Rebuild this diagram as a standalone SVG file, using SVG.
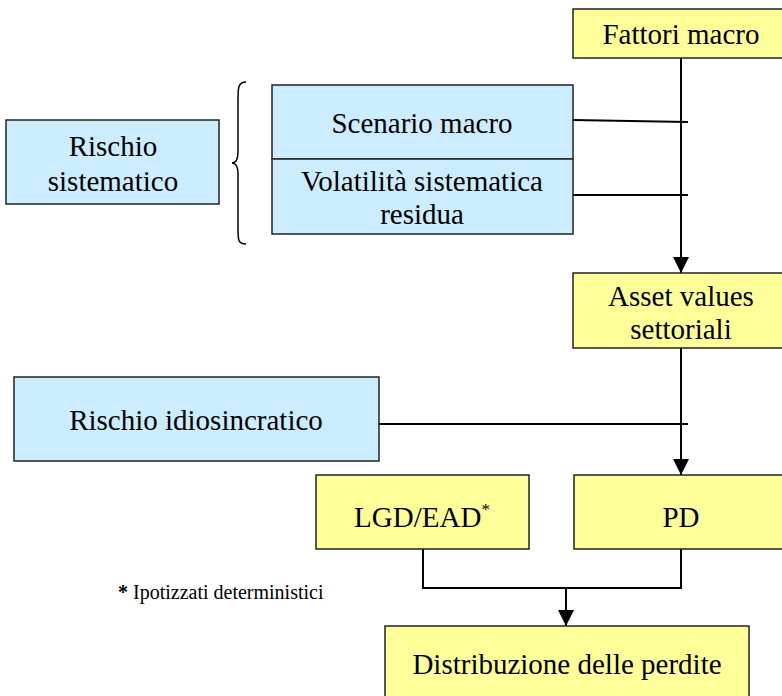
<svg xmlns="http://www.w3.org/2000/svg" width="782" height="696" viewBox="0 0 782 696">
<style>
.y{fill:#FFFF99;stroke:#222;stroke-width:1.5}
.b{fill:#CCECFF;stroke:#222;stroke-width:1.5}
.t{font-family:"Liberation Serif","Times New Roman",serif;font-size:29px;fill:#000;text-anchor:middle}
.l{fill:none;stroke:#000;stroke-width:2}
</style>
<defs>
<marker id="ah" markerWidth="16" markerHeight="16" refX="16" refY="8" orient="auto" markerUnits="userSpaceOnUse">
<path d="M0,0 L16,8 L0,16 Z" fill="#000"/>
</marker>
</defs>
<g id="connectors">
<line class="l" x1="681" y1="58" x2="681" y2="273" marker-end="url(#ah)"/>
<line class="l" x1="573" y1="120" x2="688" y2="122"/>
<line class="l" x1="573" y1="195" x2="688" y2="195"/>
<line class="l" x1="681" y1="348" x2="681" y2="475" marker-end="url(#ah)"/>
<line class="l" x1="379" y1="424" x2="688" y2="424"/>
<polyline class="l" points="423,549 423,588 681,588 681,549"/>
<line class="l" x1="566" y1="588" x2="566" y2="626" marker-end="url(#ah)"/>
<path d="M246,82 C238,82 238,88 238,100 L238,152 C238,160 236,163 232,163 C236,163 238,166 238,174 L238,228 C238,240 238,244 246,244" fill="none" stroke="#000" stroke-width="1.5"/>
</g>
<g id="fattori">
<rect class="y" x="573" y="9" width="215" height="49"/>
<text class="t" x="681" y="44">Fattori macro</text>
</g>
<g id="scenario">
<rect class="b" x="272" y="85" width="301" height="74"/>
<text class="t" x="422" y="133">Scenario macro</text>
</g>
<g id="volatilita">
<rect class="b" x="272" y="159" width="301" height="75"/>
<text class="t" x="422" y="191">Volatilità sistematica</text>
<text class="t" x="422" y="224">residua</text>
</g>
<g id="sistematico">
<rect class="b" x="6" y="120" width="213" height="84"/>
<text class="t" x="113" y="156">Rischio</text>
<text class="t" x="113" y="191">sistematico</text>
</g>
<g id="asset">
<rect class="y" x="573" y="273" width="215" height="75"/>
<text class="t" x="681" y="306">Asset values</text>
<text class="t" x="681" y="339">settoriali</text>
</g>
<g id="idiosincratico">
<rect class="b" x="14" y="377" width="365" height="84"/>
<text class="t" x="196" y="430">Rischio idiosincratico</text>
</g>
<g id="lgd">
<rect class="y" x="316" y="475" width="213" height="74"/>
<text class="t" x="422" y="527">LGD/EAD<tspan font-size="17" dy="-12">*</tspan></text>
</g>
<g id="pd">
<rect class="y" x="574" y="475" width="214" height="74"/>
<text class="t" x="681" y="527">PD</text>
</g>
<g id="distribuzione">
<rect class="y" x="385" y="626" width="364" height="80"/>
<text class="t" x="567" y="674">Distribuzione delle perdite</text>
</g>
<text x="118" y="599" font-family="'Liberation Serif','Times New Roman',serif" font-size="20" fill="#000"><tspan font-weight="bold">*</tspan> Ipotizzati deterministici</text>
</svg>
